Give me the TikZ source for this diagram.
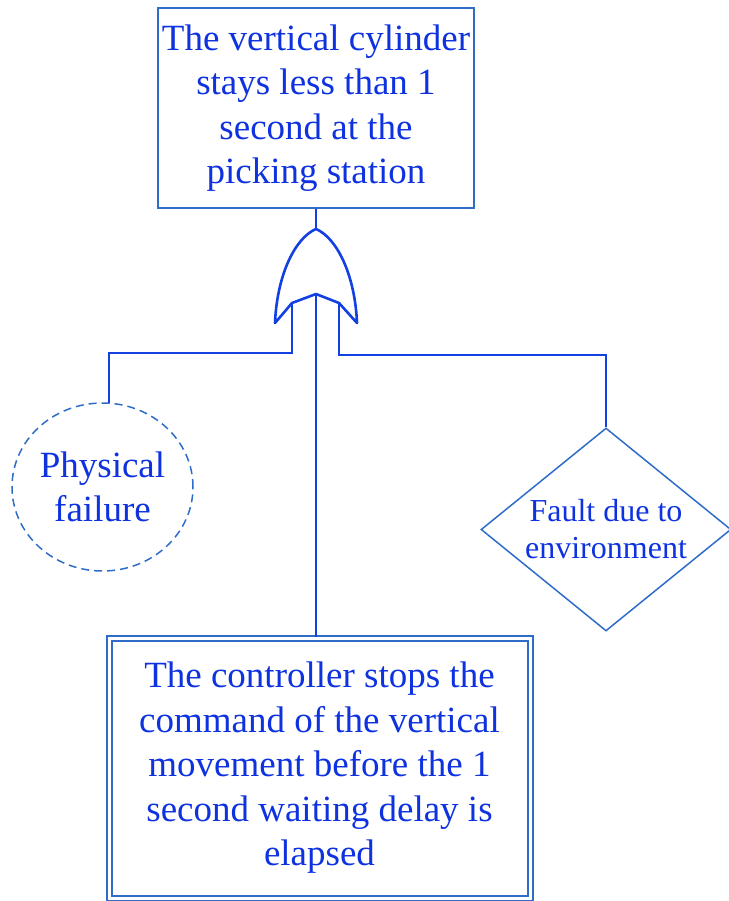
\documentclass[tikz,border=0pt]{standalone}
\usepackage{fontspec}
\setmainfont{Liberation Serif}
\usetikzlibrary{shapes.geometric,calc}
\definecolor{linec}{RGB}{46,108,200}
\definecolor{gatec}{RGB}{18,64,226}
\definecolor{textc}{RGB}{14,50,224}
\tikzset{
  bigtext/.style={text=textc, font=\fontsize{37}{44.5}\selectfont, align=center},
  eventbox/.style={draw=linec, line width=1.5pt, rectangle, bigtext, inner sep=0pt},
  basicev/.style={draw=linec, line width=1.5pt, ellipse, dash pattern=on 8pt off 5pt, bigtext, inner sep=0pt},
  undevev/.style={draw=linec, line width=1.5pt, diamond, text=textc, align=center,
    font=\fontsize{32}{37}\selectfont, inner sep=0pt, shape aspect=1.23},
  condbox/.style={draw=linec, line width=2pt, double=white, double distance=3pt, rectangle, bigtext, inner sep=0pt},
  wire/.style={draw=gatec, line width=2pt},
  gateline/.style={draw=gatec, line width=2.6pt, line join=round}
}
\begin{document}
\begin{tikzpicture}[x=1pt,y=-1pt]
\useasboundingbox (0,0) rectangle (728,901);

% top event
\node[eventbox, minimum width=316pt, minimum height=200pt] (top) at (316,108)
  {The vertical cylinder\\stays less than 1\\second at the\\picking station};

% OR gate
\coordinate (gtop) at (316,229);
\coordinate (gL) at (292,303);
\coordinate (gM) at (316,294);
\coordinate (gR) at (339,303);
\draw[gateline] (275,323) .. controls (277,275) and (295,238) .. (gtop)
  .. controls (337,238) and (355,275) .. (357,323)
  -- (gR) -- (gM) -- (gL) -- cycle;

% child events
\node[basicev, minimum width=181pt, minimum height=168pt] (phys) at (102.5,487)
  {Physical\\failure};
\node[undevev, minimum width=250pt, minimum height=203pt] (env) at (606,529.5)
  {Fault due to\\environment};
\node[condbox, minimum width=421pt, minimum height=260pt] (ctrl) at (319.5,768)
  {The controller stops the\\command of the vertical\\movement before the 1\\second waiting delay is\\elapsed};

% bends of the gate inputs
\coordinate (bL) at (292,353);
\coordinate (bR) at (339,355);

% connectors
\draw[wire] (top.south -| gtop) -- (gtop);
\draw[wire] (gL) -- (bL) -| ($(phys.north)+(6,0.3)$);
\draw[wire] (gR) -- (bR) -| (env.north);
\draw[wire] (gM) -- (gM |- ctrl.north);
\end{tikzpicture}
\end{document}
